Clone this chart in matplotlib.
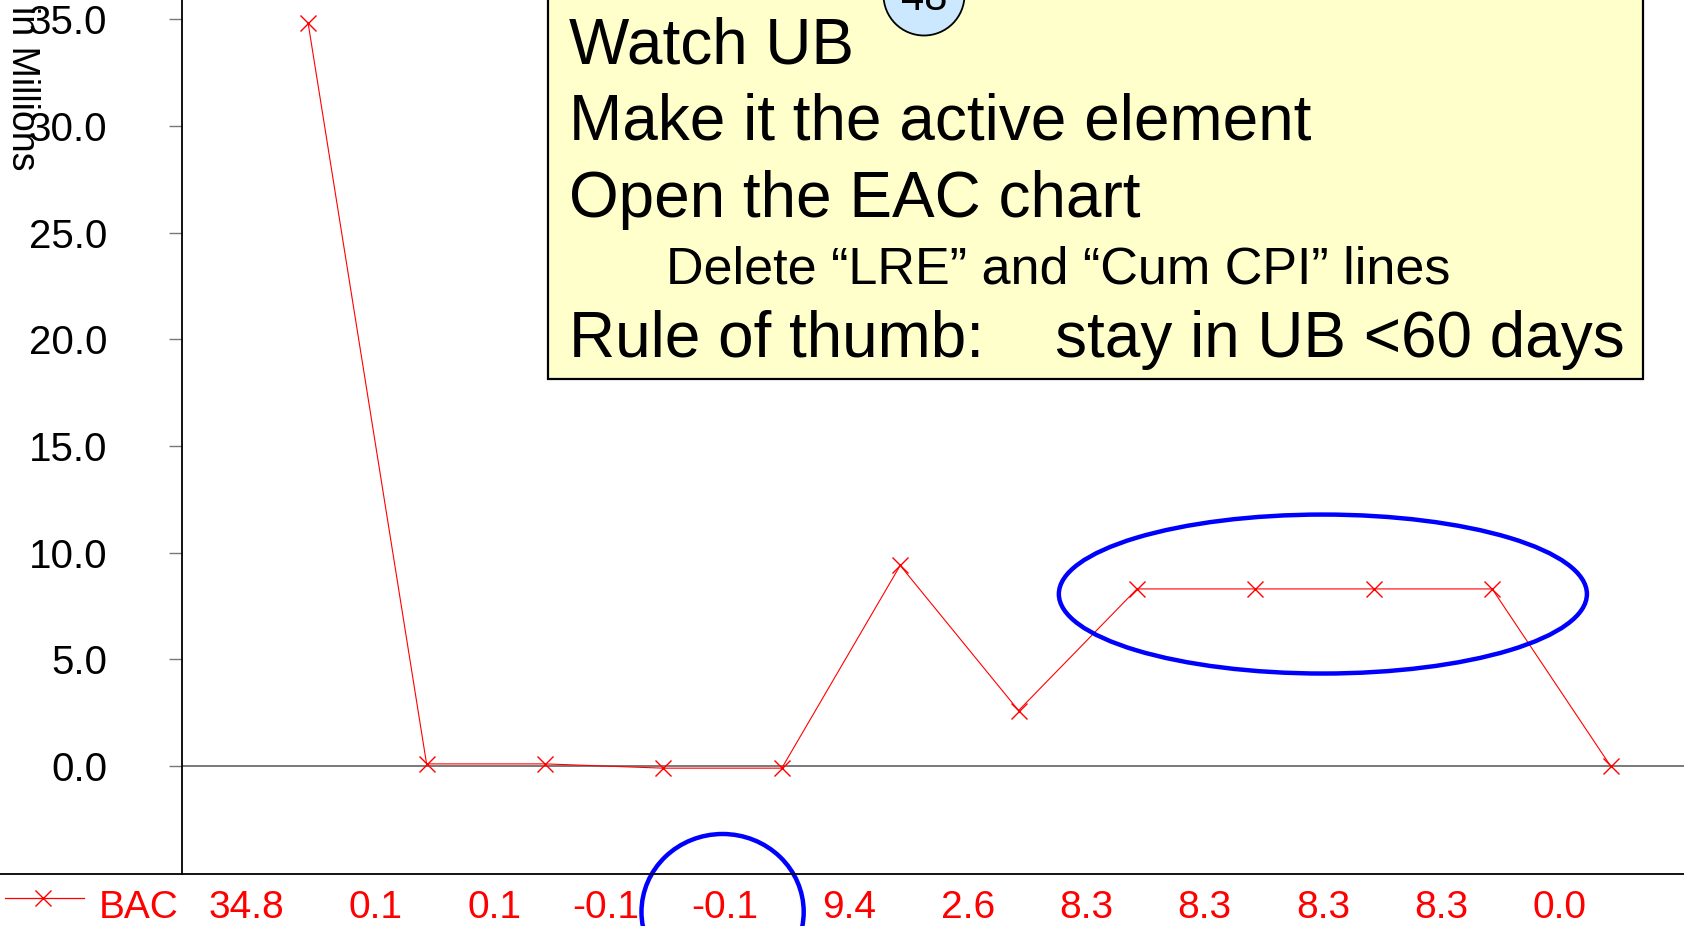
import matplotlib
matplotlib.use("Agg")
import matplotlib.pyplot as plt
import matplotlib.patches as mpatches
import matplotlib.lines as mlines
import matplotlib.transforms as mtransforms

# ── data ─────────────────────────────────────────────────────────────────────
series_name = "BAC"
bac_values = [34.8, 0.1, 0.1, -0.1, -0.1, 9.4, 2.6, 8.3, 8.3, 8.3, 8.3, 0.0]
y_ticks = [0, 5, 10, 15, 20, 25, 30, 35]
y_label = "in Millions"
note_lines = [
    "Watch UB",
    "Make it the active element",
    "Open the EAC chart",
    "Delete \u201cLRE\u201d and \u201cCum CPI\u201d lines",
    "Rule of thumb:    stay in UB <60 days",
]
slide_number = "48"

# ── style ────────────────────────────────────────────────────────────────────
RED = "#ff0000"
BLUE = "#0000ff"
NOTE_BG = "#ffffcc"
BADGE_BG = "#cce8ff"
W, H = 1684, 926

plt.rcParams["font.family"] = ["Liberation Sans", "DejaVu Sans"]

fig = plt.figure(figsize=(W / 100, H / 100), dpi=100)
fig.patch.set_facecolor("white")


def fx(px):
    return px / W


def fy(py):
    # py measured from top
    return 1 - py / H


ax = fig.add_axes([fx(181.5), fy(874), 1 - fx(181.5), fy(0) - fy(874)])
ax.set_facecolor("white")

xs = list(range(len(bac_values)))
ax.plot(xs, bac_values, color=RED, lw=0.8, marker="x", markersize=12,
        markeredgewidth=1.0, clip_on=False, zorder=3)
ax.axhline(0, color="#555555", lw=1.1, zorder=1)

ax.set_xlim(-1.07, 11.62)
ax.set_ylim(-5.06, 35.9)
ax.set_xticks([])
ax.set_yticks(y_ticks)
ax.set_yticklabels([f"{v:.1f}" for v in y_ticks])
ax.tick_params(axis="y", direction="out", length=9.5, width=1.0,
               color="#777777", pad=44, labelsize=29, labelcolor="black")
for side in ("top", "right", "bottom"):
    ax.spines[side].set_visible(False)
ax.spines["left"].set_color("black")
ax.spines["left"].set_linewidth(1.3)

# y label (rotated, partly cut at top like the source slide)
fig.text(fx(22), fy(170), y_label, rotation=270, ha="center", va="bottom",
         fontsize=27, color="black")

# bottom rule of the data table
fig.add_artist(mlines.Line2D([0, 1], [fy(874), fy(874)], color="black", lw=1.3))

# data table row: legend key, series name, values
fig.add_artist(mlines.Line2D([fx(5), fx(84)], [fy(898), fy(898)], color=RED, lw=0.9))
fig.add_artist(mlines.Line2D([fx(43)], [fy(898)], color=RED, marker="x",
                             markersize=12, markeredgewidth=1.0))
fig.text(fx(99), fy(918), series_name, color=RED, fontsize=28, va="baseline", ha="left")
row_tf = mtransforms.blended_transform_factory(ax.transData, fig.transFigure)
for i, v in enumerate(bac_values):
    ax.text(i - 0.2, fy(918), f"{v:.1f}", transform=row_tf, color=RED,
            fontsize=28, ha="right", va="baseline", clip_on=False)

# blue ellipses highlighting
ax.add_patch(mpatches.Ellipse((8.57, 8.06), 4.46, 7.45, fill=False,
                              edgecolor=BLUE, lw=3.2, clip_on=False, zorder=4))
ax.add_patch(mpatches.Ellipse((3.5, -6.84), 1.37, 7.31, fill=False,
                              edgecolor=BLUE, lw=3.2, clip_on=False, zorder=4))

# yellow note box
fig.add_artist(mpatches.Rectangle((fx(548), fy(379)), fx(1643) - fx(548),
                                  fy(-20) - fy(379), transform=fig.transFigure,
                                  facecolor=NOTE_BG, edgecolor="black", lw=1.6,
                                  zorder=5))
note_fmt = [
    (569, 64, 46),
    (569, 140, 46),
    (569, 217, 46),
    (666, 283, 37.5),
    (569, 357, 46),
]
for text, (x0, base, size) in zip(note_lines, note_fmt):
    fig.text(fx(x0), fy(base), text, fontsize=size, ha="left", va="baseline",
             color="black", zorder=6)

# slide number badge
fig.add_artist(mpatches.Ellipse((fx(924), fy(-5)), 81 / W, 81 / H,
                                transform=fig.transFigure, facecolor=BADGE_BG,
                                edgecolor="black", lw=1.3, zorder=7))
fig.text(fx(924), fy(10), slide_number, fontsize=30, ha="center", va="baseline",
         color="black", zorder=8)

fig.savefig("out.png", dpi=100, facecolor="white")
